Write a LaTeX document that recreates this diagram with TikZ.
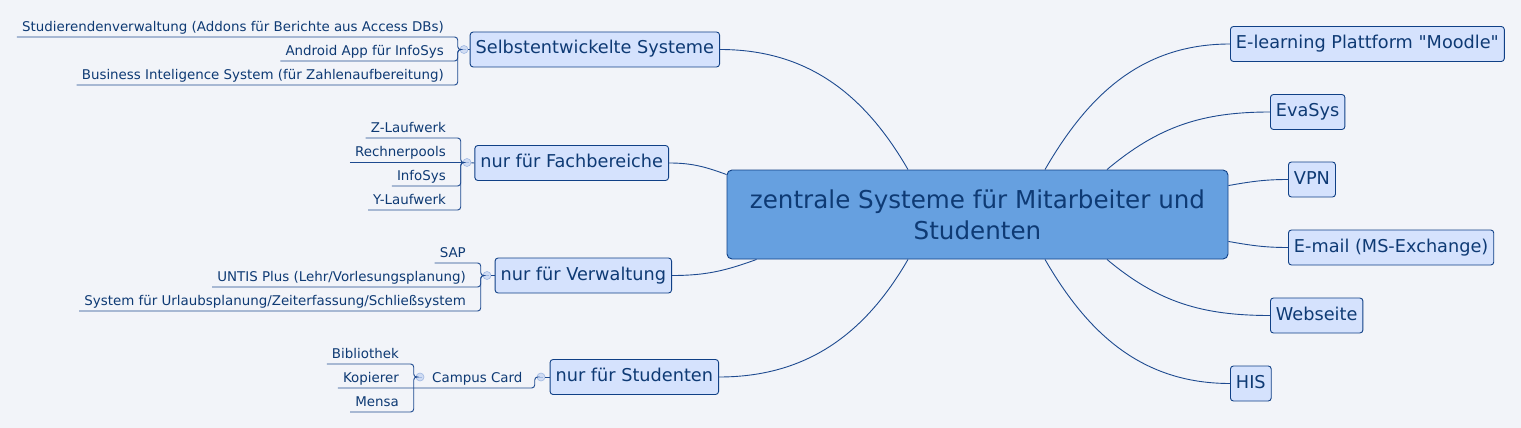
\documentclass[tikz,border=0pt]{standalone}
\usepackage{fontspec}
\setmainfont{DejaVu Sans}[Ligatures=TeXOff]
\usepackage{xcolor}
\definecolor{bgcol}{RGB}{242,244,249}
\definecolor{textcol}{RGB}{14,58,116}
\definecolor{bordercol}{RGB}{16,64,134}
\definecolor{linecol}{RGB}{30,74,144}
\definecolor{topicfill}{RGB}{213,226,253}
\definecolor{centralfill}{RGB}{102,160,224}
\definecolor{markerfill}{RGB}{208,220,243}
\definecolor{markerline}{RGB}{160,184,226}
\tikzstyle{topic}=[draw=bordercol, fill=topicfill, rounded corners=3pt, line width=0.9pt, text=textcol, font=\fontsize{17.7}{21}\selectfont, minimum height=35pt, inner xsep=5.5pt, text height=13pt, text depth=4pt]
\tikzstyle{central}=[draw=bordercol, fill=centralfill, rounded corners=5pt, line width=0.9pt, text=textcol, font=\fontsize{24.6}{31}\selectfont, align=center, minimum width=501pt, minimum height=89pt]
\tikzstyle{leaf}=[text=textcol, font=\fontsize{13.4}{16}\selectfont, inner xsep=5pt, inner ysep=2.3pt, text height=10pt, text depth=3.2pt]
\tikzstyle{marker}=[circle, draw=markerline, fill=markerfill, minimum size=8pt, inner sep=0pt, line width=0.6pt, path picture={\draw[markerline, line width=0.6pt] ([xshift=-2pt]path picture bounding box.center) -- ([xshift=2pt]path picture bounding box.center);}]
\tikzstyle{link}=[draw=linecol, line width=0.9pt]
\tikzstyle{bracket}=[link, rounded corners=3pt]

\begin{document}
\begin{tikzpicture}[x=1pt, y=-1pt]
		\fill[bgcol] (0, 0) rectangle (1521, 428);
		\node(zen)[central] at (977.5, 214.5) {zentrale Systeme für Mitarbeiter und\\Studenten};
		%%%%%%% right side
		\node(moodle)[topic, anchor=west] at (1230, 44) {E-learning Plattform "Moodle"};
		\node(evasys)[topic, anchor=west] at (1270, 112) {EvaSys};
		\node(vpn)[topic, anchor=west] at (1288, 179.5) {VPN};
		\node(email)[topic, anchor=west] at (1288, 247.5) {E-mail (MS-Exchange)};
		\node(web)[topic, anchor=west] at (1270, 315.5) {Webseite};
		\node(his)[topic, anchor=west] at (1230, 383.5) {HIS};
		\draw[link] ([xshift=67.5pt]zen.north) to[out=60, in=180] (moodle.west);
		\draw[link] ([xshift=129.5pt]zen.north) to[out=40, in=180] (evasys.west);
		\draw[link] ([yshift=-16pt]zen.north east) to[out=10, in=180] (vpn.west);
		\draw[link] ([yshift=18pt]zen.south east) to[out=-10, in=180] (email.west);
		\draw[link] ([xshift=129.5pt]zen.south) to[out=-40, in=180] (web.west);
		\draw[link] ([xshift=67.5pt]zen.south) to[out=-60, in=180] (his.west);
		%%%%%%% left side
		\node(sel)[topic, anchor=east] at (720, 49.5) {Selbstentwickelte Systeme};
		\node(fach)[topic, anchor=east] at (669, 163) {nur für Fachbereiche};
		\node(verw)[topic, anchor=east] at (672, 275.5) {nur für Verwaltung};
		\node(stud)[topic, anchor=east] at (719, 377) {nur für Studenten};
		\draw[link] ([xshift=-69.5pt]zen.north) to[out=120, in=0] (sel.east);
		\draw[link] ([yshift=-5pt]zen.north west) to[out=160, in=0] (fach.east);
		\draw[link] ([xshift=30pt]zen.south west) to[out=200, in=0] (verw.east);
		\draw[link] ([xshift=-69.5pt]zen.south) to[out=240, in=0] (stud.east);
		%%%%%%% Selbstentwickelte Systeme
		\node(m1)[marker] at (464, 49.5) {};
		\draw[link] (m1) -- (sel.west);
		\node(s1)[leaf, anchor=south east] at (449, 37) {Studierendenverwaltung (Addons für Berichte aus Access DBs)};
		\node(s2)[leaf, anchor=south east] at (449, 61) {Android App für InfoSys};
		\node(s3)[leaf, anchor=south east] at (449, 85) {Business Inteligence System (für Zahlenaufbereitung)};
		\foreach \n in {s1, s2, s3}
			\draw[bracket] (\n.south west) -| ([xshift=-2pt]m1.west) -- (m1.west);
		%%%%%%% nur für Fachbereiche
		\node(m2)[marker] at (467, 162.5) {};
		\draw[link] (m2) -- (fach.west);
		\node(f1)[leaf, anchor=south east] at (451, 138) {Z-Laufwerk};
		\node(f2)[leaf, anchor=south east] at (451, 162.5) {Rechnerpools};
		\node(f3)[leaf, anchor=south east] at (451, 186) {InfoSys};
		\node(f4)[leaf, anchor=south east] at (451, 210) {Y-Laufwerk};
		\foreach \n in {f1, f3, f4}
			\draw[bracket] (\n.south west) -| ([xshift=-2pt]m2.west) -- (m2.west);
		\draw[link] (f2.south west) -- (m2.west);
		%%%%%%% nur für Verwaltung
		\node(m3)[marker] at (487, 275.5) {};
		\draw[link] (m3) -- (verw.west);
		\node(v1)[leaf, anchor=south east] at (471, 263) {SAP};
		\node(v2)[leaf, anchor=south east] at (471, 287) {UNTIS Plus (Lehr/Vorlesungsplanung)};
		\node(v3)[leaf, anchor=south east] at (471, 311) {System für Urlaubsplanung/Zeiterfassung/Schließsystem};
		\foreach \n in {v1, v2, v3}
			\draw[bracket] (\n.south west) -| ([xshift=-2pt]m3.west) -- (m3.west);
		%%%%%%% nur für Studenten
		\node(m4)[marker] at (541, 377) {};
		\draw[link] (m4) -- (stud.west);
		\node(cc)[leaf, anchor=south west] at (427, 388) {Campus Card};
		\node(m5)[marker] at (420, 377) {};
		\node(c1)[leaf, anchor=south east] at (404, 364) {Bibliothek};
		\node(c2)[leaf, anchor=south east] at (404, 388) {Kopierer};
		\node(c3)[leaf, anchor=south east] at (404, 412) {Mensa};
		\draw[bracket] (c2.south west) -- (cc.south west) -| ([xshift=-2pt]m4.west) -- (m4.west);
		\foreach \n in {c1, c3}
			\draw[bracket] (\n.south west) -| ([xshift=-2pt]m5.west) -- (m5.west);
\end{tikzpicture}
\end{document}
